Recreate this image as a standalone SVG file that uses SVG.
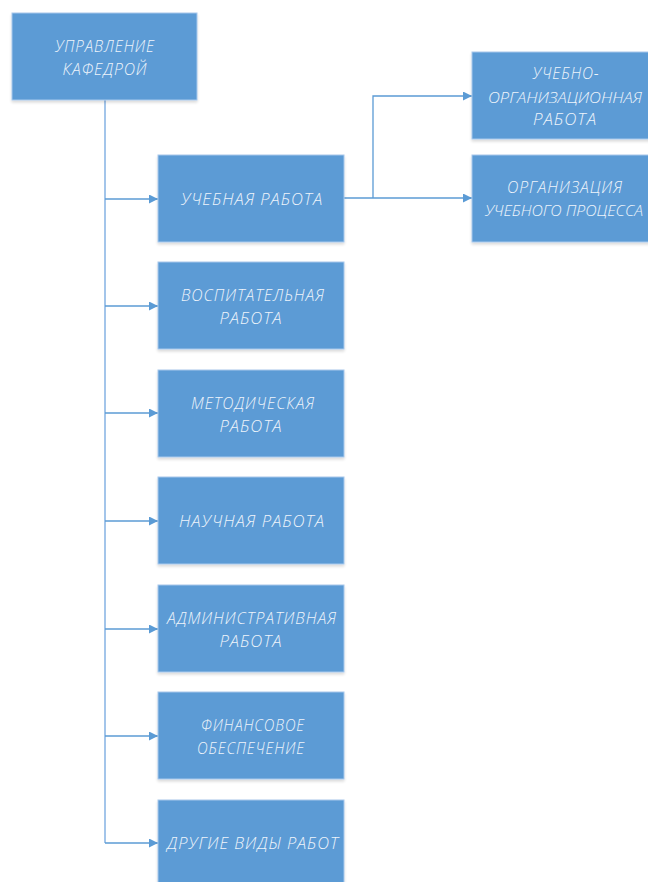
<svg xmlns="http://www.w3.org/2000/svg" width="648" height="882" viewBox="0 0 648 882">
  <style>
    .box { fill: #5b9bd5; stroke: #a8c8ec; stroke-width: 1; filter: url(#shadow); }
    .lbl { font-family: "Open Sans", "Liberation Sans", sans-serif; font-style: italic; font-weight: 300; font-size: 17px; fill: #eef4fb; text-anchor: middle; letter-spacing: 1px; }
    .lbl.tight { font-size: 15px; letter-spacing: 0; }
    .edge { fill: none; stroke: #5b9bd5; stroke-width: 1.3; }
    .trunk { fill: none; stroke: #a3c5ea; stroke-width: 2; }
  </style>
  <defs>
    <marker id="arrow" viewBox="0 0 10 10" refX="10" refY="5" markerWidth="10" markerHeight="9" markerUnits="userSpaceOnUse" orient="auto">
      <path d="M0,0 L10,5 L0,10 Z" fill="#5b9bd5"/>
    </marker>
    <filter id="shadow" x="-10%" y="-10%" width="120%" height="125%">
      <feGaussianBlur in="SourceAlpha" stdDeviation="1.5"/>
      <feOffset dy="2" result="b"/>
      <feComponentTransfer><feFuncA type="linear" slope="0.15"/></feComponentTransfer>
      <feMerge><feMergeNode/><feMergeNode in="SourceGraphic"/></feMerge>
    </filter>
  </defs>

  <rect width="648" height="882" fill="#ffffff"/>

  <!-- connectors -->
  <g id="connectors">
    <path class="trunk" d="M105,100 V843"/>
    <path class="edge" d="M105,199 H158" marker-end="url(#arrow)"/>
    <path class="edge" d="M105,306 H158" marker-end="url(#arrow)"/>
    <path class="edge" d="M105,413 H158" marker-end="url(#arrow)"/>
    <path class="edge" d="M105,521 H158" marker-end="url(#arrow)"/>
    <path class="edge" d="M105,629 H158" marker-end="url(#arrow)"/>
    <path class="edge" d="M105,736 H158" marker-end="url(#arrow)"/>
    <path class="edge" d="M105,843 H158" marker-end="url(#arrow)"/>
    <path class="edge" d="M344,198 H472" marker-end="url(#arrow)"/>
    <path class="edge" d="M373,198 V96 H472" marker-end="url(#arrow)"/>
  </g>

  <!-- root -->
  <g id="root">
    <rect class="box" x="12" y="13" width="185" height="87"/>
    <text class="lbl" x="105" y="52" textLength="100" lengthAdjust="spacingAndGlyphs">УПРАВЛЕНИЕ</text>
    <text class="lbl" x="105" y="75" textLength="85" lengthAdjust="spacingAndGlyphs">КАФЕДРОЙ</text>
  </g>

  <g id="teaching">
    <rect class="box" x="158" y="155" width="186" height="87"/>
    <text class="lbl" x="252" y="205" textLength="142" lengthAdjust="spacingAndGlyphs">УЧЕБНАЯ РАБОТА</text>
  </g>

  <g id="upbringing">
    <rect class="box" x="158" y="262" width="186" height="87"/>
    <text class="lbl" x="253" y="301" textLength="144" lengthAdjust="spacingAndGlyphs">ВОСПИТАТЕЛЬНАЯ</text>
    <text class="lbl" x="251" y="324" textLength="63" lengthAdjust="spacingAndGlyphs">РАБОТА</text>
  </g>

  <g id="methodical">
    <rect class="box" x="158" y="370" width="186" height="87"/>
    <text class="lbl" x="253" y="409" textLength="124" lengthAdjust="spacingAndGlyphs">МЕТОДИЧЕСКАЯ</text>
    <text class="lbl" x="251" y="432" textLength="63" lengthAdjust="spacingAndGlyphs">РАБОТА</text>
  </g>

  <g id="research">
    <rect class="box" x="158" y="477" width="186" height="87"/>
    <text class="lbl" x="252" y="527" textLength="146" lengthAdjust="spacingAndGlyphs">НАУЧНАЯ РАБОТА</text>
  </g>

  <g id="administrative">
    <rect class="box" x="158" y="585" width="186" height="87"/>
    <text class="lbl" x="252" y="624" textLength="170" lengthAdjust="spacingAndGlyphs">АДМИНИСТРАТИВНАЯ</text>
    <text class="lbl" x="251" y="647" textLength="63" lengthAdjust="spacingAndGlyphs">РАБОТА</text>
  </g>

  <g id="financial">
    <rect class="box" x="158" y="692" width="186" height="87"/>
    <text class="lbl" x="253" y="731" textLength="104" lengthAdjust="spacingAndGlyphs">ФИНАНСОВОЕ</text>
    <text class="lbl" x="251" y="754" textLength="108" lengthAdjust="spacingAndGlyphs">ОБЕСПЕЧЕНИЕ</text>
  </g>

  <g id="other">
    <rect class="box" x="158" y="800" width="186" height="90"/>
    <text class="lbl" x="253" y="849" textLength="172" lengthAdjust="spacingAndGlyphs">ДРУГИЕ ВИДЫ РАБОТ</text>
  </g>

  <g id="org-teaching">
    <rect class="box" x="472" y="52" width="186" height="87"/>
    <text class="lbl" x="566" y="79" textLength="67" lengthAdjust="spacingAndGlyphs">УЧЕБНО-</text>
    <text class="lbl tight" x="565" y="103" textLength="154" lengthAdjust="spacingAndGlyphs">ОРГАНИЗАЦИОННАЯ</text>
    <text class="lbl" x="565" y="125" textLength="64" lengthAdjust="spacingAndGlyphs">РАБОТА</text>
  </g>

  <g id="process">
    <rect class="box" x="472" y="155" width="186" height="87"/>
    <text class="lbl" x="565" y="193" textLength="116" lengthAdjust="spacingAndGlyphs">ОРГАНИЗАЦИЯ</text>
    <text class="lbl tight" x="564" y="216" textLength="158" lengthAdjust="spacingAndGlyphs">УЧЕБНОГО ПРОЦЕССА</text>
  </g>
</svg>
